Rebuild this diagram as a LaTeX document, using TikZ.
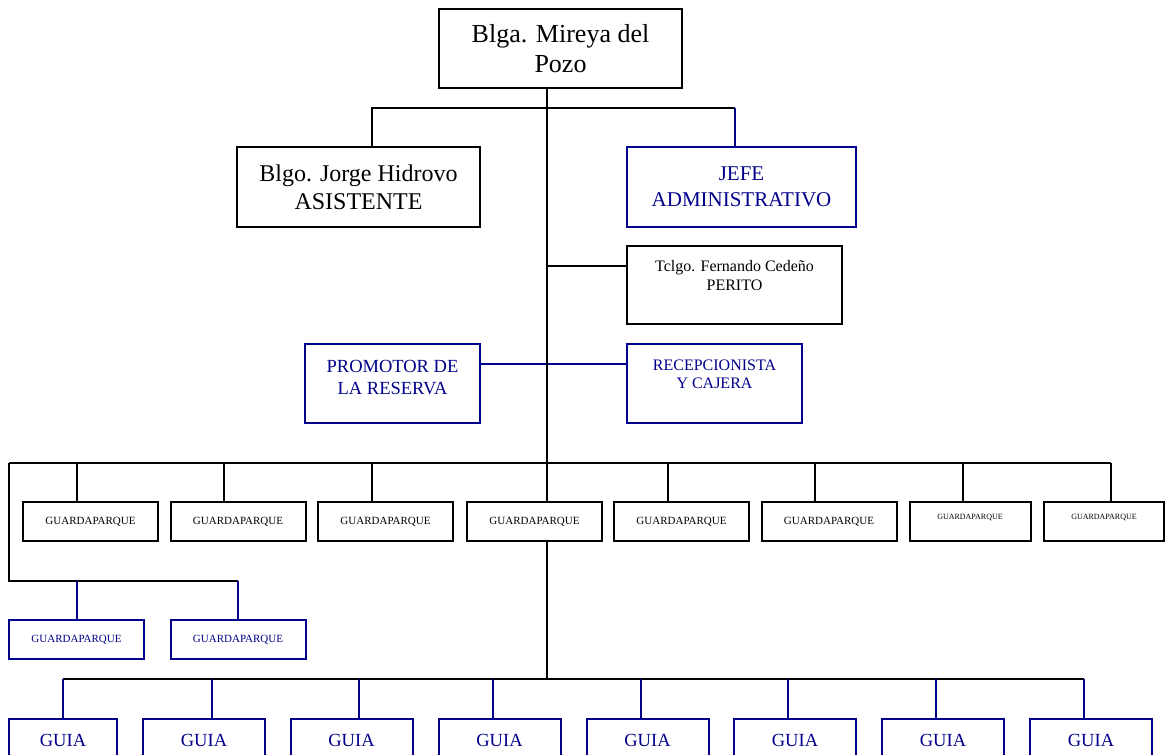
\documentclass[tikz,border=0pt]{standalone}
\usepackage{fontspec}
\setmainfont{Liberation Serif}
\usepackage{tikz}
\definecolor{azul}{RGB}{0,0,139}

\begin{document}
\begin{tikzpicture}[x = 1pt, y = -1pt, line width = 2pt,
								caja/.style = {rectangle, draw, fill = 
								white, inner sep = 0pt, align = center},
								cajaazul/.style = {caja, draw = azul, text = azul},
								lineaazul/.style = {draw = azul},
								guarda/.style = {caja, minimum width = 135pt, 
								minimum height = 39pt, font = \fontsize{11}{13}\selectfont},
								guardachica/.style = {caja, minimum width = 121pt, 
								minimum height = 39pt, font = \fontsize{8}{10}\selectfont},
								guardaazul/.style = {guarda, draw = azul, text = azul},
								guia/.style = {cajaazul, minimum width = 122pt, 
								minimum height = 42pt, font = \fontsize{18.5}{22}\selectfont}]

				\useasboundingbox (0,0) rectangle (1165,755);

				\node [caja, minimum width = 243pt, minimum height = 79pt,
				font = \fontsize{26}{30}\selectfont] (jefa) at (560.5,48.5)
				{Blga. Mireya del\\Pozo};
				\node [caja, minimum width = 243pt, minimum height = 80pt,
				font = \fontsize{24}{28}\selectfont] (asist) at (358.5,187)
				{Blgo. Jorge Hidrovo\\ASISTENTE};
				\node [cajaazul, minimum width = 229pt, minimum height = 80pt,
				font = \fontsize{21}{26}\selectfont] (admin) at (741.5,187)
				{JEFE\\ADMINISTRATIVO};
				\node [caja, minimum width = 215pt, minimum height = 78pt,
				font = \fontsize{16}{19}\selectfont] (perito) at (734.5,285)
				{Tclgo. Fernando Cedeño\\PERITO\\\mbox{}};
				\node [cajaazul, minimum width = 175pt, minimum height = 79pt,
				font = \fontsize{18.5}{22}\selectfont] (promotor) at (392.5,383.5)
				{PROMOTOR DE\\LA RESERVA\\[-10pt]\mbox{}};
				\node [cajaazul, minimum width = 175pt, minimum height = 79pt,
				font = \fontsize{16}{18}\selectfont] (recep) at (714.5,383.5)
				{RECEPCIONISTA\\Y CAJERA\\\mbox{}};

				\node [guarda] (g_1) at (90.5,521.5) {GUARDAPARQUE};
				\node [guarda] (g_2) at (238,521.5) {GUARDAPARQUE};
				\node [guarda] (g_3) at (385.5,521.5) {GUARDAPARQUE};
				\node [guarda] (g_4) at (534.5,521.5) {GUARDAPARQUE};
				\node [guarda] (g_5) at (681.5,521.5) {GUARDAPARQUE};
				\node [guarda] (g_6) at (829,521.5) {GUARDAPARQUE};
				\node [guardachica] (g_7) at (970,521.5) {GUARDAPARQUE\\[-1pt]\mbox{}};
				\node [guardachica, minimum width = 120pt] (g_8) at (1104,521.5)
				{GUARDAPARQUE\\[-1pt]\mbox{}};
				\node [guardaazul] (l_1) at (76.5,639.5) {GUARDAPARQUE};
				\node [guardaazul] (l_2) at (238,639.5) {GUARDAPARQUE};

				\node [guia, minimum width = 108pt] (u_1) at (63,740) {GUIA};
				\node [guia] (u_2) at (204,740) {GUIA};
				\node [guia] (u_3) at (351.5,740) {GUIA};
				\node [guia] (u_4) at (499.5,740) {GUIA};
				\node [guia] (u_5) at (647.5,740) {GUIA};
				\node [guia] (u_6) at (795,740) {GUIA};
				\node [guia] (u_7) at (943,740) {GUIA};
				\node [guia] (u_8) at (1091,740) {GUIA};

				\coordinate (t_1) at (547,108);
				\coordinate (t_2) at (547,266);
				\coordinate (t_3) at (547,364);
				\coordinate (t_5) at (547,679);
				\coordinate (b_1) at (372,108);
				\coordinate (b_2) at (735,108);
				\coordinate (d_0) at (9,463);
				\coordinate (d_1) at (77,463);
				\coordinate (d_2) at (224,463);
				\coordinate (d_3) at (372,463);
				\coordinate (d_5) at (668,463);
				\coordinate (d_6) at (815,463);
				\coordinate (d_7) at (963,463);
				\coordinate (d_8) at (1111,463);
				\coordinate (e_0) at (9,581);
				\coordinate (e_1) at (77,581);
				\coordinate (e_2) at (238,581);
				\coordinate (h_1) at (63,679);
				\coordinate (h_2) at (212,679);
				\coordinate (h_3) at (359,679);
				\coordinate (h_4) at (493,679);
				\coordinate (h_5) at (641,679);
				\coordinate (h_6) at (788,679);
				\coordinate (h_7) at (936,679);
				\coordinate (h_8) at (1084,679);

				\draw [lineaazul] (promotor.east |- t_3) -- (recep.west |- t_3);
				\draw (jefa.south -| t_1) -- (g_4.north -| t_1);
				\draw (g_4.south -| t_1) -- (t_5);
				\draw (asist.north -| b_1) -- (b_1) -- (b_2);
				\draw [lineaazul] (b_2) -- (admin.north -| b_2);
				\draw (t_2) -- (perito.west |- t_2);

				\draw (d_0) -- (d_8);
				\draw (d_1) -- (g_1.north -| d_1);
				\draw (d_2) -- (g_2.north -| d_2);
				\draw (d_3) -- (g_3.north -| d_3);
				\draw (d_5) -- (g_5.north -| d_5);
				\draw (d_6) -- (g_6.north -| d_6);
				\draw (d_7) -- (g_7.north -| d_7);
				\draw (d_8) -- (g_8.north -| d_8);
				\draw (d_0) -- (e_0) -- (e_2);
				\draw [lineaazul] (e_1) -- (l_1.north -| e_1);
				\draw [lineaazul] (e_2) -- (l_2.north -| e_2);

				\draw (h_1) -- (h_8);
				\draw [lineaazul] (h_1) -- (u_1.north -| h_1);
				\draw [lineaazul] (h_2) -- (u_2.north -| h_2);
				\draw [lineaazul] (h_3) -- (u_3.north -| h_3);
				\draw [lineaazul] (h_4) -- (u_4.north -| h_4);
				\draw [lineaazul] (h_5) -- (u_5.north -| h_5);
				\draw [lineaazul] (h_6) -- (u_6.north -| h_6);
				\draw [lineaazul] (h_7) -- (u_7.north -| h_7);
				\draw [lineaazul] (h_8) -- (u_8.north -| h_8);
			\end{tikzpicture}
\end{document}
